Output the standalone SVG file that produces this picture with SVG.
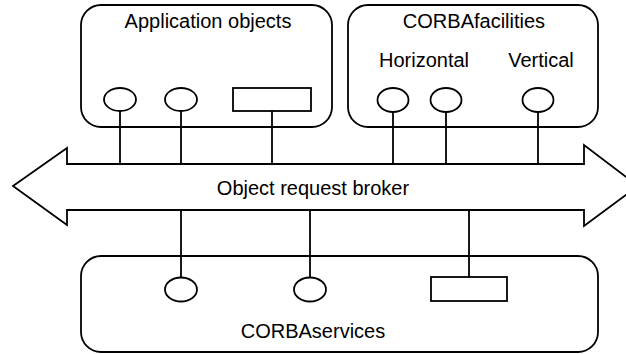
<svg xmlns="http://www.w3.org/2000/svg" width="626" height="354" viewBox="0 0 626 354">
<style>
.s{fill:none;stroke:#000;stroke-width:1.8}
.f{fill:#fff;stroke:#000;stroke-width:1.8}
text{font-family:"Liberation Sans",Arial,sans-serif;font-size:20px;fill:#000;text-anchor:middle}
</style>
<rect width="626" height="354" fill="#fff"/>
<g id="app-objects">
<rect class="s" x="81" y="5" width="251" height="122" rx="20"/>
<text x="208" y="28">Application objects</text>
</g>
<g id="corba-facilities">
<rect class="s" x="348" y="5" width="250" height="122" rx="20"/>
<text x="474" y="28">CORBAfacilities</text>
<text x="424" y="67">Horizontal</text>
<text x="541" y="67">Vertical</text>
</g>
<g id="corba-services">
<rect class="s" x="81" y="256" width="517" height="96" rx="20"/>
<text x="313" y="338">CORBAservices</text>
</g>
<g id="connectors">
<line class="s" x1="120" y1="111" x2="120" y2="164"/>
<line class="s" x1="181" y1="111" x2="181" y2="164"/>
<line class="s" x1="272" y1="111" x2="272" y2="164"/>
<line class="s" x1="393" y1="112" x2="393" y2="164"/>
<line class="s" x1="446" y1="112" x2="446" y2="164"/>
<line class="s" x1="538" y1="112" x2="538" y2="164"/>
<line class="s" x1="181" y1="210" x2="181" y2="277"/>
<line class="s" x1="310" y1="210" x2="310" y2="277"/>
<line class="s" x1="469" y1="210" x2="469" y2="277"/>
</g>
<g id="orb">
<polygon class="f" points="13,186 67,148 67,164 584,164 584,145 638,186 584,226 584,210 67,210 67,225"/>
<text x="313" y="195">Object request broker</text>
</g>
<g id="interfaces">
<ellipse class="f" cx="120" cy="99.5" rx="16" ry="11.5"/>
<ellipse class="f" cx="181" cy="99.5" rx="16" ry="11.5"/>
<rect class="f" x="233" y="88" width="78" height="23"/>
<ellipse class="f" cx="393" cy="100" rx="15.5" ry="12"/>
<ellipse class="f" cx="446" cy="100" rx="15.5" ry="12"/>
<ellipse class="f" cx="538" cy="100" rx="15.5" ry="12"/>
<ellipse class="f" cx="181" cy="289.5" rx="16" ry="12"/>
<ellipse class="f" cx="310" cy="289.5" rx="16" ry="12"/>
<rect class="f" x="431" y="277" width="76" height="24"/>
</g>
</svg>
